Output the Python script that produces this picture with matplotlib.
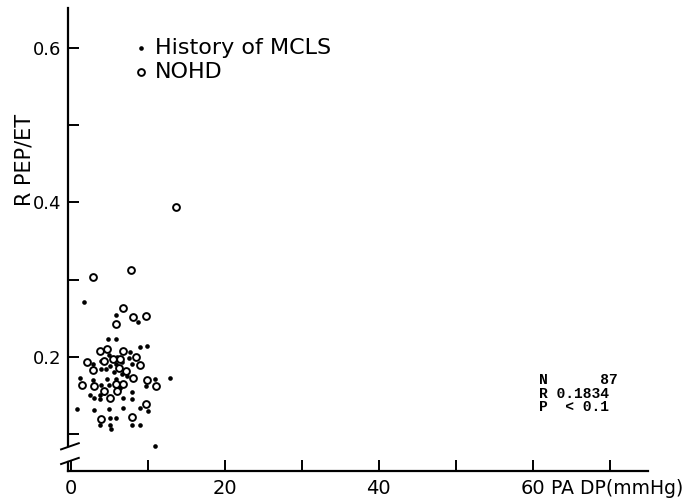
import matplotlib
matplotlib.use("Agg")
import matplotlib.pyplot as plt

# history of MCLS (filled dots)
mcls_dp = [1.7, 5.9, 8.7, 4.8, 5.9, 8.9, 9.9, 1.2, 0.8, 2.9, 3.0, 4.9, 6.8, 9.0, 10.0,
           3.7, 5.1, 5.9, 5.1, 5.2, 7.9, 9.0, 10.9, 12.8, 10.9, 2.4, 3.0, 3.8, 3.8,
           4.3, 4.9, 6.8, 7.9, 7.9, 9.7, 4.7, 5.8, 3.9, 4.9, 7.3, 6.4, 2.8, 3.9, 4.5,
           5.1, 5.8, 6.0, 6.6, 7.5, 7.9, 6.6, 5.6, 4.9, 7.7, 3.9]
mcls_ratio = [0.271, 0.254, 0.245, 0.223, 0.223, 0.213, 0.214, 0.172, 0.132, 0.170, 0.131,
              0.132, 0.134, 0.133, 0.130, 0.111, 0.121, 0.121, 0.112, 0.106, 0.111, 0.112,
              0.085, 0.172, 0.171, 0.150, 0.146, 0.150, 0.145, 0.153, 0.146, 0.147, 0.154,
              0.145, 0.162, 0.171, 0.171, 0.164, 0.163, 0.175, 0.159, 0.191, 0.184, 0.184,
              0.188, 0.191, 0.200, 0.193, 0.198, 0.191, 0.178, 0.180, 0.202, 0.206, 0.195]

# NOHD (open circles)
nohd_dp = [6.8, 5.9, 8.0, 9.7, 3.7, 4.7, 6.8, 8.5, 2.1, 2.9, 4.3, 5.5, 6.3, 6.2, 7.1,
           8.9, 8.0, 9.9, 11.0, 1.4, 3.0, 4.3, 5.9, 6.8, 6.0, 5.0, 9.8, 3.9, 7.9,
           2.8, 7.8, 13.7]
nohd_ratio = [0.263, 0.243, 0.251, 0.253, 0.207, 0.210, 0.207, 0.200, 0.193, 0.183, 0.195,
              0.197, 0.197, 0.186, 0.181, 0.189, 0.172, 0.170, 0.162, 0.163, 0.162, 0.156,
              0.165, 0.165, 0.156, 0.147, 0.139, 0.120, 0.122, 0.303, 0.313, 0.394]

xticks = [0, 10, 20, 30, 40, 50, 60, 70]
xlabels = ["0", "", "20", "", "40", "", "60", ""]
yticks = [0.1, 0.2, 0.3, 0.4, 0.5, 0.6]
ylabels = ["", "0.2", "", "0.4", "", "0.6"]

plt.rcParams['font.family'] = ['DejaVu Sans']

fig = plt.figure(figsize=(6.89, 5.0), dpi=100)
ax = fig.add_axes([0.0987, 0.058, 0.842, 0.926])

ax.scatter(mcls_dp, mcls_ratio, s=11, c='black', linewidths=0, label='History of MCLS', zorder=3)
ax.scatter(nohd_dp, nohd_ratio, s=24, facecolors='white', edgecolors='black', linewidths=1.4,
           label='NOHD', zorder=3)

ax.set_xlim(-0.4, 75)
ax.set_ylim(0.052, 0.652)

ax.spines['top'].set_visible(False)
ax.spines['right'].set_visible(False)
for sp in ['left', 'bottom']:
    ax.spines[sp].set_linewidth(1.6)
ax.spines['left'].set_bounds(0.084, 0.652)

# broken axis marks near the bottom of the y axis
ax.plot([-0.4, -0.4], [0.052, 0.064], color='black', lw=1.6, clip_on=False)
ax.plot([-1.3, 1.0], [0.080, 0.088], color='black', lw=1.4, clip_on=False)
ax.plot([-1.3, 1.0], [0.061, 0.069], color='black', lw=1.4, clip_on=False)

ax.set_xticks(xticks)
ax.set_xticklabels(xlabels)
ax.set_yticks(yticks)
ax.set_yticklabels(ylabels)
ax.tick_params(axis='both', direction='in', length=8, width=1.4)
ax.tick_params(axis='x', pad=6, labelsize=14)
ax.tick_params(axis='y', pad=5, labelsize=13)

ax.annotate("PA DP(mmHg)", xy=(62.4, 0), xycoords=('data', 'axes fraction'),
            xytext=(0, -6), textcoords='offset points', fontsize=13.5, ha='left', va='top')
ax.set_ylabel("R PEP/ET", fontsize=15)
ax.yaxis.set_label_coords(-0.058, 0.672)

ax.legend(loc='upper left', bbox_to_anchor=(0.088, 0.96), frameon=False, fontsize=16,
          handletextpad=0.1, labelspacing=0.2, borderpad=0, handlelength=1.0)

ax.text(60.8, 0.152, "N      87\nR 0.1834\nP  < 0.1", family='Liberation Mono',
        fontsize=10.5, fontweight='bold', ha='left', va='center', linespacing=0.95)

fig.savefig("out.png", dpi=100)
